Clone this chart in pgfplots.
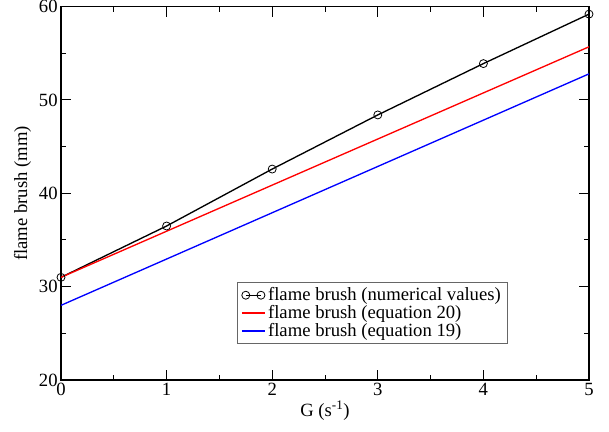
\documentclass[border=0pt]{standalone}
\usepackage{fontspec}
\setmainfont{Liberation Serif}
\usepackage{pgfplots}
\pgfplotsset{compat=1.18}

\begin{document}
\begin{tikzpicture}
\path[use as bounding box] (-45.75pt,-38.25pt) rectangle (411pt,285pt);
\begin{axis}[
  at={(0,0)}, anchor=south west,
  scale only axis, width=396pt, height=280pt,
  xmin=0, xmax=5, ymin=20, ymax=60,
  xtick={0,1,2,3,4,5}, ytick={20,30,40,50,60},
  minor x tick num=1, minor y tick num=1,
  tick align=inside,
  major tick length=7.5pt, minor tick length=3.75pt,
  every tick/.style={black, line width=0.75pt},
  axis line style={line width=0.9pt},
  /pgf/number format/assume math mode=true,
  tick label style={font=\fontsize{14}{16}\selectfont},
  yticklabel style={xshift=1pt},
  xticklabel style={yshift=1pt},
  label style={font=\fontsize{14}{16}\selectfont},
  xlabel={G (s\textsuperscript{-1})},
  ylabel={flame brush (mm)},
  xlabel style={yshift=3pt},
  ylabel style={yshift=-1pt},
  legend style={at={(0.333,0.263)}, anchor=north west, draw=black!60, line width=0.75pt,
    font=\fontsize{14}{16}\selectfont, row sep=-2pt, inner xsep=3pt, inner ysep=2pt},
  legend cell align=left,
]
\addplot[black, line width=1pt, mark=o, mark size=3pt, mark options={line width=0.6pt},
  legend image code/.code={\draw[##1] plot coordinates {(0.1cm,0cm) (0.5cm,0cm)};}] coordinates {
  (0,31.0) (1,36.5) (2,42.6) (3,48.4) (4,53.9) (5,59.2)
};
\addlegendentry{flame brush (numerical values)}
\addplot[red, line width=1pt] coordinates {
  (0,31.0) (5,55.7)
};
\addlegendentry{flame brush (equation 20)}
\addplot[blue, line width=1pt] coordinates {
  (0,28.0) (5,52.8)
};
\addlegendentry{flame brush (equation 19)}
\end{axis}
\end{tikzpicture}
\end{document}
